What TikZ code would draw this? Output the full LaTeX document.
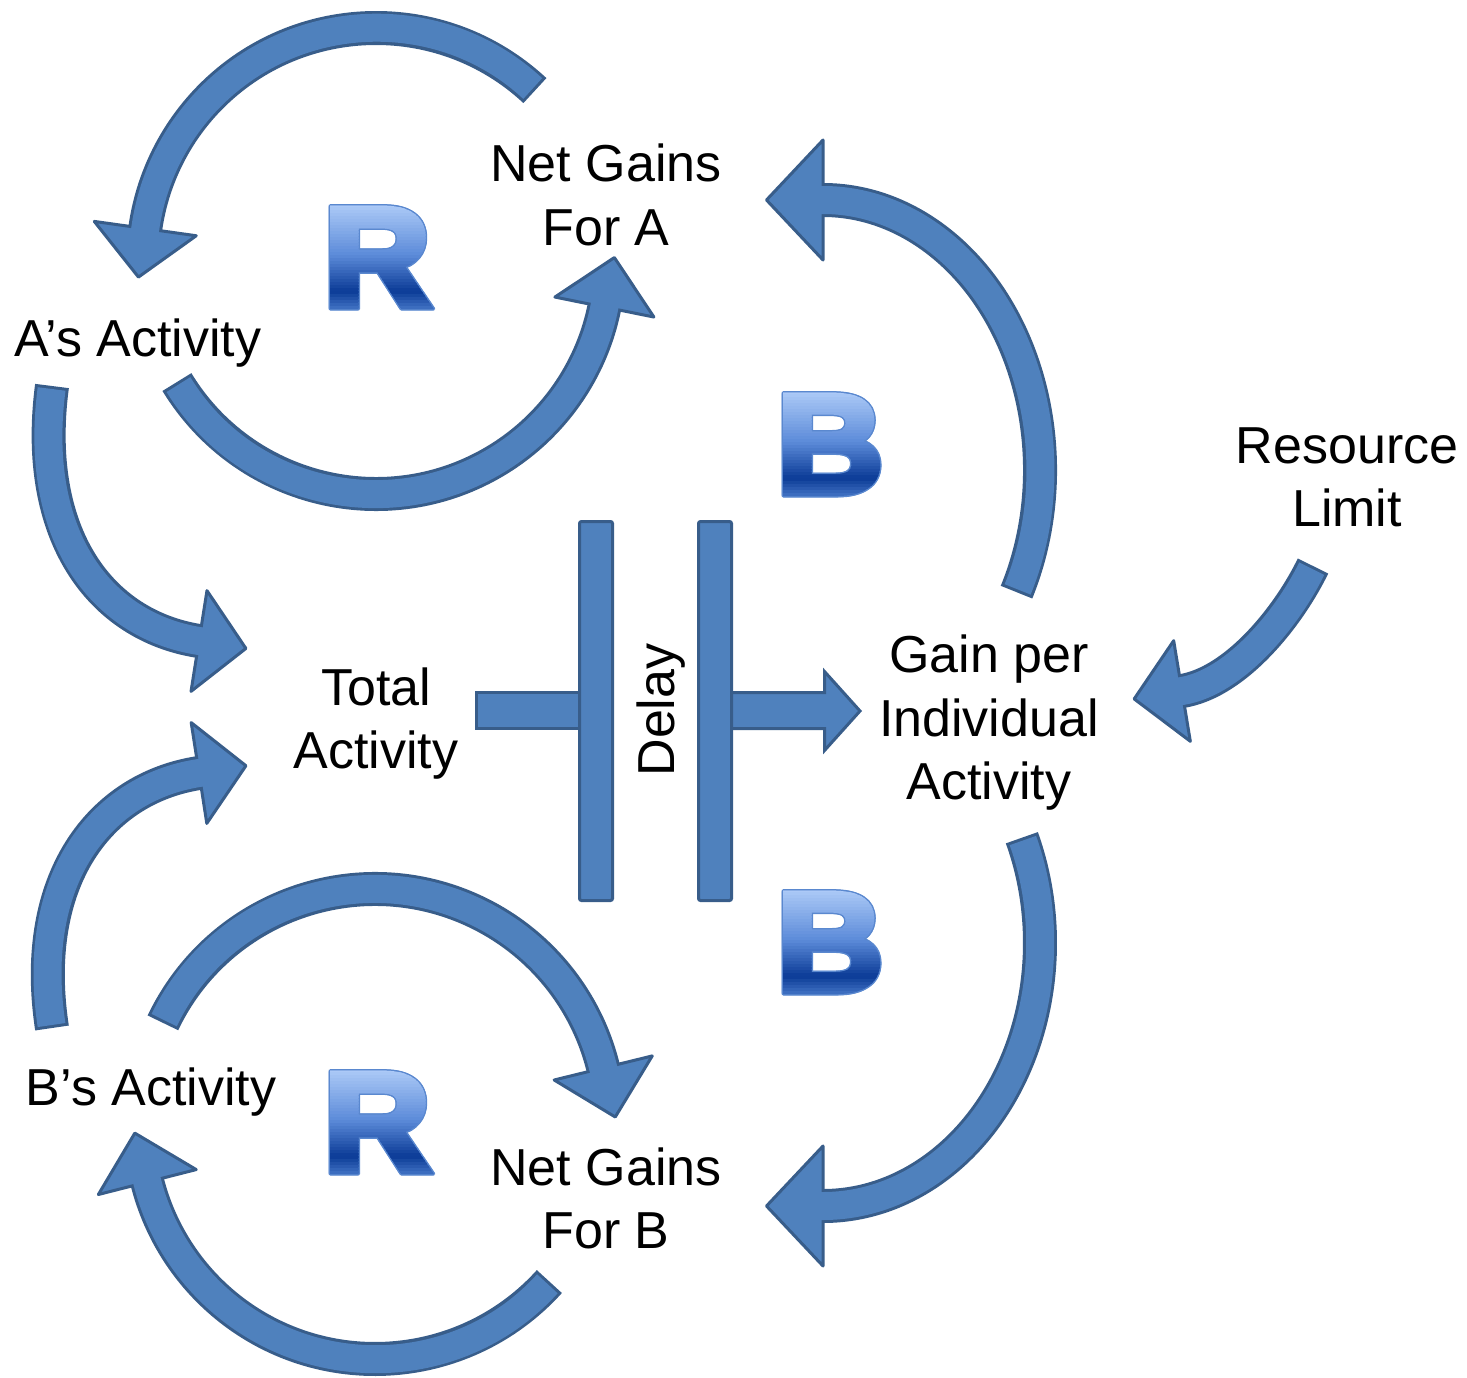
\documentclass[tikz,border=0pt]{standalone}
\usepackage{fontspec}
\setmainfont{Liberation Sans}
\newfontfamily\heavy{Liberation Sans Bold}[FakeBold=5]
\usetikzlibrary{calc}
\definecolor{fl}{HTML}{4F81BD}
\definecolor{dk}{HTML}{385D8A}
\definecolor{lo}{HTML}{5A88CF}
\definecolor{gT}{HTML}{B8D3FB}
\definecolor{gM}{HTML}{5C8BD9}
\definecolor{gD}{HTML}{0B3B96}
\definecolor{gB}{HTML}{4A7BCB}
\newcommand\sx{\rule[-12pt]{0pt}{52pt}}
\newcommand\lfont{\fontsize{140}{140}\heavy}
\newcommand\blockarrow[5]{%
  \draw[shaftout] #1;
  \filldraw[headst] ($(#2)+(#3+90:#4)$) -- ($(#2)+(#3:#5)$) -- ($(#2)+(#3-90:#4)$) -- cycle;
  \draw[shaftin] #1 -- ($(#2)+(#3:5)$);
}
\tikzset{
  shaftout/.style={draw=dk, line width=34pt},
  shaftin/.style={draw=fl, line width=28pt, shorten <=3pt},
  headst/.style={fill=fl, draw=dk, line width=3pt, line join=round},
  boxst/.style={fill=fl, draw=dk, line width=3pt},
  lbl/.style={font=\fontsize{52}{63.5}\selectfont, align=center, inner sep=0pt, text=black},
  letterbase/.style={inner sep=0pt, text height=100pt, text depth=0pt, font=\lfont},
}
\begin{document}
\begin{tikzpicture}[x=1pt, y=-1pt]
\useasboundingbox (0,0) rectangle (1467,1378);

% ---------- text nodes ----------
\node[lbl] (netA) at (606,199.5) {\sx Net Gains\\\sx For A};
\node[lbl] (actA) at (138,342) {\sx A’s Activity};
\node[lbl] (total) at (376,723) {\sx Total\\\sx Activity};
\node[lbl] (gain) at (989,722) {\sx Gain per\\\sx Individual\\\sx Activity};
\node[lbl] (res) at (1347,481) {\sx Resource\\\sx Limit};
\node[lbl] (actB) at (151,1091.5) {\sx B’s Activity};
\node[lbl] (netB) at (606,1203) {\sx Net Gains\\\sx For B};

% ---------- geometry ----------
\coordinate (C1) at (376,261);
\coordinate (C2) at (375,1124);
\coordinate (C5) at (823,470);
\coordinate (C6) at (823,943);
\coordinate (a1t) at ($(C1)+(-47:233)$);
\coordinate (a1e) at ($(C1)+(-172:233)$);
\coordinate (a2t) at ($(C1)+(148.7:233)$);
\coordinate (a2e) at ($(C1)+(11.4:233)$);
\coordinate (a3t) at ($(C2)+(-154.5:235)$);
\coordinate (a3e) at ($(C2)+(-13.8:235)$);
\coordinate (a4t) at ($(C2)+(42.1:235)$);
\coordinate (a4e) at ($(C2)+(165.7:235)$);
\coordinate (a5t) at ($(C5)+(26.9:217 and 270)$);
\coordinate (a5e) at ($(C5)+(-90:217 and 270)$);
\coordinate (a6t) at ($(C6)+(-23.6:217 and 263)$);
\coordinate (a6e) at ($(C6)+(90:217 and 263)$);
\coordinate (a7t) at (52,386);
\coordinate (a7e) at (199,641);
\coordinate (a8t) at (52,1028);
\coordinate (a8e) at (199,773);
\coordinate (a9t) at (1313,566);
\coordinate (a9e) at (1182,691);

% ---------- curved block arrows ----------
\blockarrow{(a1t) arc[start angle=-47, end angle=-172, radius=233]}{a1e}{98}{51.5}{49}
\blockarrow{(a2t) arc[start angle=148.7, end angle=11.4, radius=233]}{a2e}{-78.6}{50.5}{50.5}
\blockarrow{(a3t) arc[start angle=-154.5, end angle=-13.8, radius=235]}{a3e}{76.2}{50.5}{50.5}
\blockarrow{(a4t) arc[start angle=42.1, end angle=165.7, radius=235]}{a4e}{255.7}{50.5}{50.5}
\blockarrow{(a5t) arc[start angle=26.9, end angle=-90, x radius=217, y radius=270]}{a5e}{180}{60}{56.5}
\blockarrow{(a6t) arc[start angle=-23.6, end angle=90, x radius=217, y radius=263]}{a6e}{180}{60}{56.5}
\blockarrow{(a7t) .. controls (32.5,534.5) and (100.2,625.4) .. (a7e)}{a7e}{9}{51}{47.5}
\blockarrow{(a8t) .. controls (29.5,879.5) and (100.2,788.3) .. (a8e)}{a8e}{-8.8}{51}{47.5}
\blockarrow{(a9t) .. controls (1289,615.5) and (1236.5,682) .. (a9e)}{a9e}{170.6}{51}{48.5}

% ---------- delay ----------
\filldraw[boxst] (476.5,692.5) rectangle (585,728.5);
\filldraw[boxst] (725,692.5) -- (824.5,692.5) -- (824.5,671.5) -- (860,711) -- (824.5,750.5) -- (824.5,728.5) -- (725,728.5) -- cycle;
\filldraw[boxst, rounded corners=2pt] (579.5,521.5) rectangle (612.5,900.5);
\filldraw[boxst, rounded corners=2pt] (698.5,521.5) rectangle (731.5,900.5);
\node[lbl, rotate=90] (delay) at (660,710) {\sx Delay};

% ---------- loop letters (gradient built from clipped bands) ----------
\foreach \nm/\cx/\cy/\ch in {R1/377/255.5/R, R2/377/1120.5/R, B1/830/442.5/B, B2/830/940.5/B}{
  \coordinate (\nm) at (\cx,\cy);
  \foreach \dx/\dy [count=\k] in {1.5/0,-1.5/0,0/1.5,0/-1.5,1.1/1.1,-1.1/1.1,1.1/-1.1,-1.1/-1.1}
    \node[letterbase, text=lo] (\nm o\k) at ($(\nm)+(\dx,\dy)$) {\scalebox{1.05}[1]{\ch}};
  \foreach \i in {0,...,37}{
    \pgfmathsetmacro\f{(\i+0.5)/38}
    \ifdim\f pt<0.5pt
      \pgfmathsetmacro\p{\f/0.5*100}\colorlet{sc}{gM!\p!gT}
    \else\ifdim\f pt<0.82pt
      \pgfmathsetmacro\p{(\f-0.5)/0.32*100}\colorlet{sc}{gD!\p!gM}
    \else
      \pgfmathsetmacro\p{(\f-0.82)/0.18*100}\colorlet{sc}{gB!\p!gD}
    \fi\fi
    \begin{scope}
      \clip ($(\nm)+(-75,-57+3*\i)$) rectangle ($(\nm)+(75,-57+3*\i+3.8)$);
      \node[letterbase, text=sc] (\nm s\i) at (\nm) {\scalebox{1.05}[1]{\ch}};
    \end{scope}
  }
}
\end{tikzpicture}
\end{document}
